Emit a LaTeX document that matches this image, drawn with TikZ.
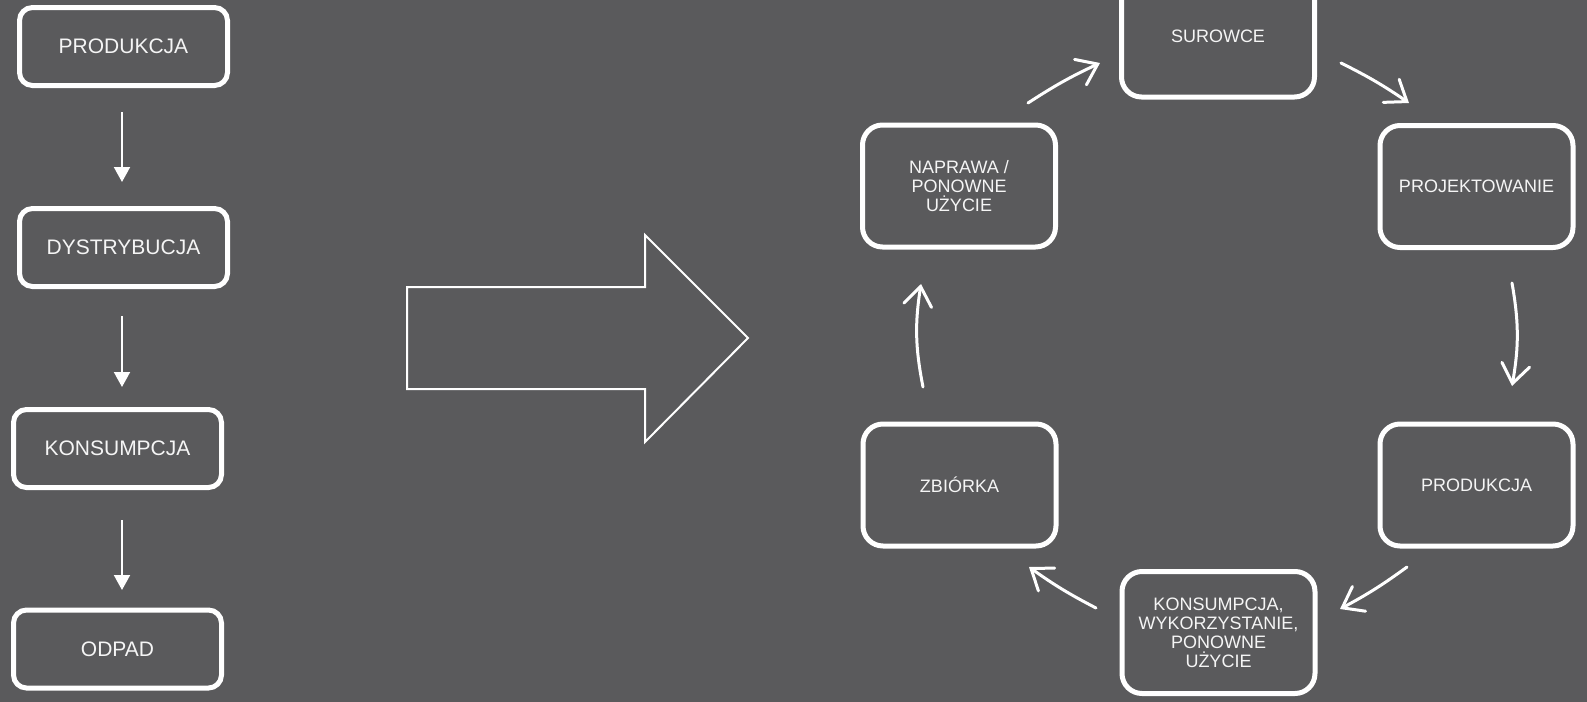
\documentclass[tikz,border=0pt]{standalone}
\usepackage{fontspec}
\setmainfont{Liberation Sans}
\usetikzlibrary{arrows.meta}
\definecolor{concrete}{RGB}{90,90,92}
\definecolor{chalk}{RGB}{245,245,245}
\tikzset{
  linbox/.style={draw=white, line width=2.5pt, rounded corners=6.5pt,
    minimum width=104pt, minimum height=39pt, inner sep=0pt, text=chalk,
    font=\fontsize{10.5}{12}\selectfont, align=center},
  cycbox/.style={draw=white, line width=2.5pt, rounded corners=10pt,
    minimum width=96.5pt, minimum height=61pt, inner sep=0pt, text=chalk,
    font=\fontsize{9}{9.5}\selectfont, align=center},
  linarrow/.style={draw=white, line width=1pt, -{Triangle[length=7.5pt,width=8pt]}},
  cycarrow/.style={draw=white, line width=1.5pt, line cap=round,
    -{Straight Barb[length=9.5pt,width=14pt,line cap=round]}},
  bigarrow/.style={draw=white, line width=1pt, line join=miter}
}
\begin{document}
\begin{tikzpicture}[x=0.5pt,y=-0.5pt]
\fill[concrete] (0,0) rectangle (1587,702);
\useasboundingbox (0,0) rectangle (1587,702);
\clip (0,0) rectangle (1587,702);

% linear chain
\node[linbox] (l1) at (123.5,46.5) {PRODUKCJA};
\node[linbox] (l2) at (123.5,247.5) {DYSTRYBUCJA};
\node[linbox] (l3) at (117.5,448.5) {KONSUMPCJA};
\node[linbox] (l4) at (117.5,649) {ODPAD};

\coordinate (a1s) at (122,112);
\coordinate (a1e) at (122,182);
\coordinate (a2s) at (122,316);
\coordinate (a2e) at (122,387);
\coordinate (a3s) at (122,520);
\coordinate (a3e) at (122,590);
\draw[linarrow] (a1s) -- (a1e);
\draw[linarrow] (a2s) -- (a2e);
\draw[linarrow] (a3s) -- (a3e);

% big arrow
\draw[bigarrow] (407,287) -- (645,287) -- (645,235) -- (748,338)
  -- (645,442) -- (645,389) -- (407,389) -- cycle;

% circular chain
\node[cycbox] (c1) at (1218,36) {SUROWCE};
\node[cycbox] (c2) at (1476.5,186.5) {PROJEKTOWANIE};
\node[cycbox] (c3) at (1476.5,485) {PRODUKCJA};
\node[cycbox] (c4) at (1218.5,632.5) {KONSUMPCJA,\\WYKORZYSTANIE,\\PONOWNE\\UŻYCIE};
\node[cycbox] (c5) at (959.5,485) {ZBIÓRKA};
\node[cycbox] (c6) at (959,186) {NAPRAWA /\\PONOWNE\\UŻYCIE};

\coordinate (b1s) at (1028,103);
\coordinate (b1e) at (1100,63);
\coordinate (b2s) at (1341,63);
\coordinate (b2e) at (1409,103);
\coordinate (b3s) at (1512,283);
\coordinate (b3e) at (1512,386);
\coordinate (b4s) at (1407,567);
\coordinate (b4e) at (1340,609);
\coordinate (b5s) at (1096,608);
\coordinate (b5e) at (1029,567);
\coordinate (b6s) at (923,387);
\coordinate (b6e) at (921,284);
\draw[cycarrow] (b1s) to[bend left=4] (b1e);
\draw[cycarrow] (b2s) to[bend left=4] (b2e);
\draw[cycarrow] (b3s) to[bend left=10] (b3e);
\draw[cycarrow] (b4s) to[bend left=4] (b4e);
\draw[cycarrow] (b5s) to[bend left=4] (b5e);
\draw[cycarrow] (b6s) to[bend left=10] (b6e);
\end{tikzpicture}
\end{document}
